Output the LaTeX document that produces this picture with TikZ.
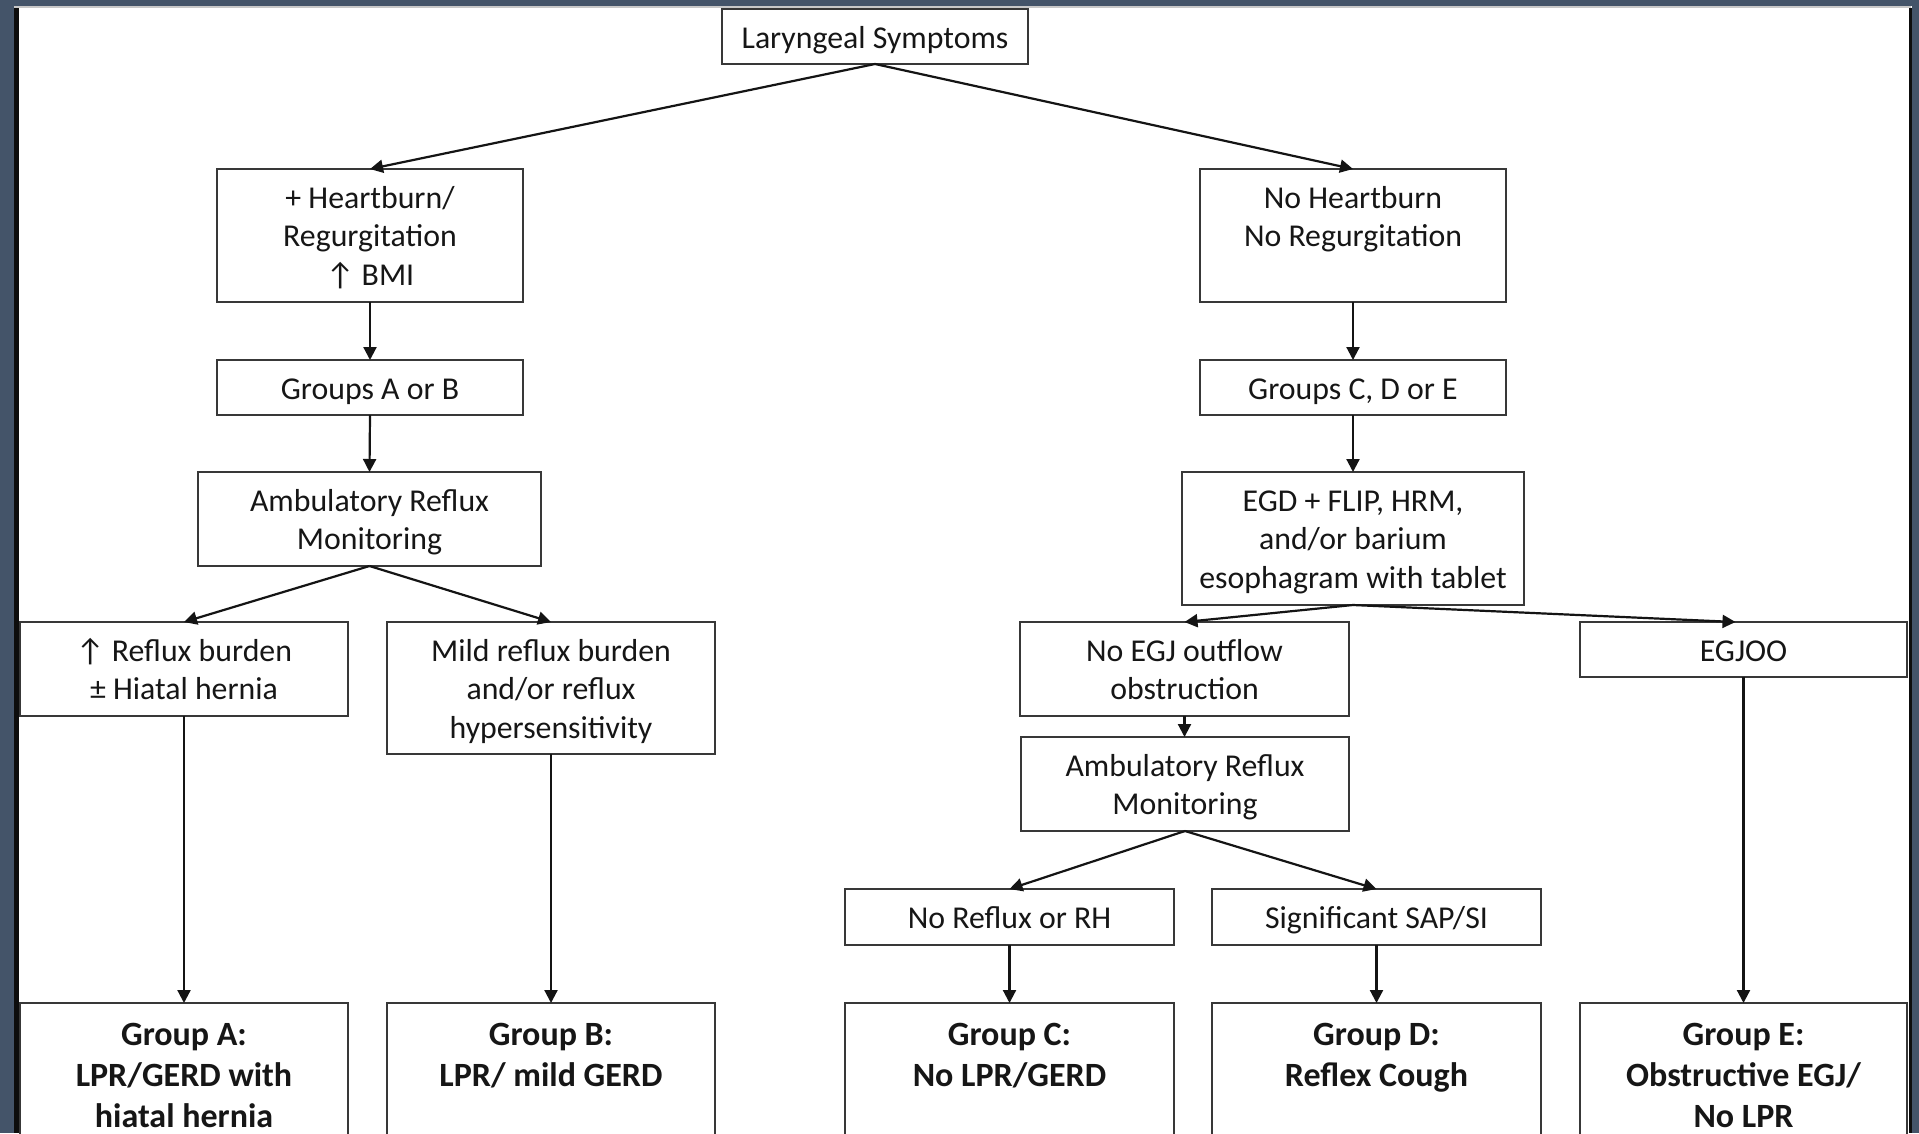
\documentclass[tikz,border=0pt]{standalone}
\usepackage{fontspec}
\setmainfont{Carlito}
\usetikzlibrary{arrows.meta}
\definecolor{framec}{HTML}{445469}
\definecolor{boxc}{HTML}{383838}
\definecolor{txtc}{HTML}{161616}
\definecolor{topline}{HTML}{C8C8C8}
\newcommand{\nfont}{\fontsize{31.8}{38.6}\selectfont}
\newcommand{\bfontx}{\fontsize{34}{41}\selectfont\bfseries}
\newcommand{\fstrut}{\rule{0pt}{24pt}}
\newcommand{\gstrut}{\rule{0pt}{27pt}}
\newcommand{\up}{{\char"2191}}
\begin{document}
\begin{tikzpicture}[x=1pt,y=-1pt,
  bx/.style={draw=boxc, line width=2pt, inner sep=0pt, outer sep=0pt, fill=white},
  lbl/.style={inner sep=0pt, outer sep=0pt, align=center, font=\nfont, text=txtc, anchor=north},
  glbl/.style={inner sep=0pt, outer sep=0pt, align=center, font=\bfontx, text=txtc, anchor=north},
  arr/.style={draw=black!92, line width=2.2pt, -{Triangle[length=13pt,width=13pt]}}]
\useasboundingbox (0,0) rectangle (1919,1133);
\clip (0,0) rectangle (1919,1133);
\fill[white] (0,0) rectangle (1919,1133);
% frame
\fill[framec] (0,0) rectangle (1919,6);
\fill[framec] (0,0) rectangle (14,1133);
\fill[framec] (1912,0) rectangle (1919,1133);
\fill[topline] (14,6) rectangle (1911,8);
\fill[black!95] (14,8) rectangle (19,1133);
\fill[black!95] (1909,8) rectangle (1912,1133);

% boxes
\node[bx, minimum width=306pt, minimum height=55pt, anchor=north west] (lar) at (722,9) {};
\node[bx, minimum width=306pt, minimum height=133pt, anchor=north west] (hb) at (217,169) {};
\node[bx, minimum width=306pt, minimum height=55pt, anchor=north west] (gab) at (217,360) {};
\node[bx, minimum width=343pt, minimum height=94pt, anchor=north west] (amb1) at (198,472) {};
\node[bx, minimum width=328pt, minimum height=94pt, anchor=north west] (rfx) at (20,622) {};
\node[bx, minimum width=328pt, minimum height=132pt, anchor=north west] (mild) at (387,622) {};
\node[bx, minimum width=328pt, minimum height=200pt, anchor=north west] (ga) at (20,1003) {};
\node[bx, minimum width=328pt, minimum height=200pt, anchor=north west] (gb) at (387,1003) {};

\node[bx, minimum width=306pt, minimum height=133pt, anchor=north west] (nhb) at (1200,169) {};
\node[bx, minimum width=306pt, minimum height=55pt, anchor=north west] (gcde) at (1200,360) {};
\node[bx, minimum width=342pt, minimum height=133pt, anchor=north west] (egd) at (1182,472) {};
\node[bx, minimum width=329pt, minimum height=94pt, anchor=north west] (negj) at (1020,622) {};
\node[bx, minimum width=327pt, minimum height=55pt, anchor=north west] (egjoo) at (1580,622) {};
\node[bx, minimum width=328pt, minimum height=94pt, anchor=north west] (amb2) at (1021,737) {};
\node[bx, minimum width=329pt, minimum height=56pt, anchor=north west] (nrf) at (845,889) {};
\node[bx, minimum width=329pt, minimum height=56pt, anchor=north west] (sap) at (1212,889) {};
\node[bx, minimum width=329pt, minimum height=200pt, anchor=north west] (gc) at (845,1003) {};
\node[bx, minimum width=329pt, minimum height=200pt, anchor=north west] (gd) at (1212,1003) {};
\node[bx, minimum width=327pt, minimum height=200pt, anchor=north west] (ge) at (1580,1003) {};

% texts
\node[lbl] (lar-t) at ([yshift=-15pt]lar.north) {\fstrut Laryngeal Symptoms};
\node[lbl] (hb-t) at ([yshift=-15pt]hb.north) {\fstrut + Heartburn/\\Regurgitation\\\up\ BMI};
\node[lbl] (gab-t) at ([yshift=-15pt]gab.north) {\fstrut Groups A or B};
\node[lbl] (amb1-t) at ([yshift=-15pt]amb1.north) {\fstrut Ambulatory Reflux\\Monitoring};
\node[lbl] (rfx-t) at ([yshift=-15pt]rfx.north) {\fstrut\up\ Reflux burden\\\textpm\ Hiatal hernia};
\node[lbl] (mild-t) at ([yshift=-15pt]mild.north) {\fstrut Mild reflux burden\\and/or reflux\\hypersensitivity};
\node[glbl] (ga-t) at ([yshift=-15pt]ga.north) {\gstrut Group A:\\LPR/GERD with\\hiatal hernia};
\node[glbl] (gb-t) at ([yshift=-15pt]gb.north) {\gstrut Group B:\\LPR/ mild GERD};

\node[lbl] (nhb-t) at ([yshift=-15pt]nhb.north) {\fstrut No Heartburn\\No Regurgitation};
\node[lbl] (gcde-t) at ([yshift=-15pt]gcde.north) {\fstrut Groups C, D or E};
\node[lbl] (egd-t) at ([yshift=-15pt]egd.north) {\fstrut EGD + FLIP, HRM,\\and/or barium\\esophagram with tablet};
\node[lbl] (negj-t) at ([yshift=-15pt]negj.north) {\fstrut No EGJ outflow\\obstruction};
\node[lbl] (egjoo-t) at ([yshift=-15pt]egjoo.north) {\fstrut EGJOO};
\node[lbl] (amb2-t) at ([yshift=-15pt]amb2.north) {\fstrut Ambulatory Reflux\\Monitoring};
\node[lbl] (nrf-t) at ([yshift=-15pt]nrf.north) {\fstrut No Reflux or RH};
\node[lbl] (sap-t) at ([yshift=-15pt]sap.north) {\fstrut Significant SAP/SI};
\node[glbl] (gc-t) at ([yshift=-15pt]gc.north) {\gstrut Group C:\\No LPR/GERD};
\node[glbl] (gd-t) at ([yshift=-15pt]gd.north) {\gstrut Group D:\\Reflex Cough};
\node[glbl] (ge-t) at ([yshift=-15pt]ge.north) {\gstrut Group E:\\Obstructive EGJ/\\No LPR};

% connectors
\draw[arr] (lar.south) -- (hb.north);
\draw[arr] (lar.south) -- (nhb.north);
\draw[arr] (hb.south) -- (gab.north);
\draw[arr] (gab.south) -- (amb1.north);
\draw[arr] (amb1.south) -- (rfx.north);
\draw[arr] (amb1.south) -- (mild.north);
\draw[arr] (rfx.south) -- (ga.north);
\draw[arr] (mild.south) -- (gb.north);
\draw[arr] (nhb.south) -- (gcde.north);
\draw[arr] (gcde.south) -- (egd.north);
\draw[arr] (egd.south) -- (negj.north);
\draw[arr] (egd.south) -- ([xshift=-8pt]egjoo.north);
\draw[arr] (negj.south) -- (negj.south |- amb2.north);
\draw[arr] (amb2.south) -- (nrf.north);
\draw[arr] (amb2.south) -- (sap.north);
\draw[arr] (nrf.south) -- (gc.north);
\draw[arr] (sap.south) -- (gd.north);
\draw[arr] (egjoo.south) -- (ge.north);
\end{tikzpicture}
\end{document}
